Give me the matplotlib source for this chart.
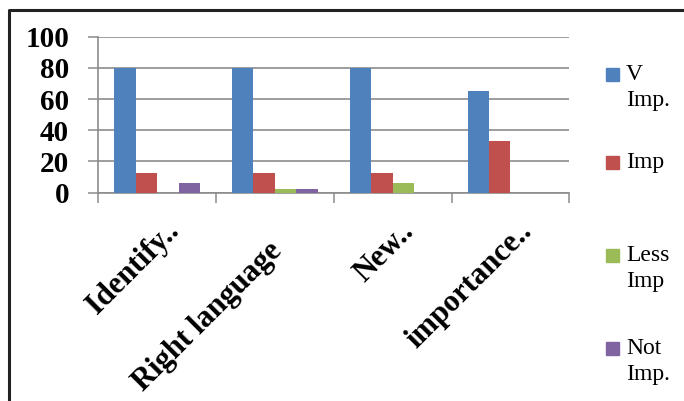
import numpy as np
import matplotlib.pyplot as plt
from matplotlib.lines import Line2D
from matplotlib.patches import Rectangle
from matplotlib.transforms import offset_copy

categories = ['Identify..', 'Right language', 'New..', 'importance..']
series_names = ['V\nImp.', 'Imp', 'Less\nImp', 'Not\nImp.']
v_imp = [80, 80, 80, 65]
imp = [12.5, 12.5, 12.5, 33]
less_imp = [0, 2.5, 6.25, 0]
not_imp = [6.25, 2.5, 0, 0]
y_ticks = [0, 20, 40, 60, 80, 100]

colors = ['#4F81BD', '#C0504D', '#9BBB59', '#8064A2']
grid_color = '#8C8C8C'
serif = ['Liberation Serif', 'DejaVu Serif']

fig = plt.figure(figsize=(6.84, 4.01), dpi=100)
ax = fig.add_axes([0.1437, 0.5195, 0.6886, 0.389])

values = [v_imp, imp, less_imp, not_imp]
x = np.arange(len(categories))
width = 0.182
for i, (vals, col) in enumerate(zip(values, colors)):
    ax.bar(x + (i - 1.5) * width, vals, width, color=col, zorder=3)

ax.set_xlim(-0.5, len(categories) - 0.5)
ax.set_ylim(0, 100)
ax.set_yticks(y_ticks)
ax.set_yticklabels([str(t) for t in y_ticks], family=serif, fontweight='bold', fontsize=21)
ax.yaxis.grid(True, color=grid_color, linewidth=1.2, zorder=0)
ax.tick_params(axis='y', length=7, width=1.1, color=grid_color, pad=14)

# tick marks on the category boundaries
ax.set_xticks(np.arange(len(categories) + 1) - 0.5)
ax.set_xticklabels([])
ax.tick_params(axis='x', length=7, width=1.1, color=grid_color)

# rotated category names, nudged (pixels) the way the spreadsheet placed them
label_nudge = [(7, -24), (-8, -44), (7, -24), (7, -24)]
xform = ax.get_xaxis_transform()
for xi, name, (dx, dy) in zip(x, categories, label_nudge):
    tr = offset_copy(xform, fig=fig, x=dx, y=dy, units='dots')
    ax.text(xi, 0, name, transform=tr, rotation=45, ha='right', va='top',
            rotation_mode='anchor', family=serif, fontweight='bold', fontsize=22)

for side in ['top', 'right']:
    ax.spines[side].set_visible(False)
for side in ['left', 'bottom']:
    ax.spines[side].set_color(grid_color)
    ax.spines[side].set_linewidth(1.2)

# legend drawn by hand so the swatch lines up with the first text line
W, H = 684, 401
legend_tops = [68, 156, 249, 342]
for name, col, top in zip(series_names, colors, legend_tops):
    fig.add_artist(Rectangle((606 / W, 1 - (top + 13) / H), 13 / W, 13 / H,
                             color=col, transform=fig.transFigure))
    fig.text(626 / W, 1 - (top - 4) / H, name, family=serif, fontsize=17,
             va='top', ha='left', linespacing=1.3)

# outer frame
fig.add_artist(Line2D([8.5 / W, 8.5 / W, 1], [0, 1 - 9.5 / H, 1 - 9.5 / H],
                      color='#222222', linewidth=2.2, transform=fig.transFigure))

fig.savefig('out.png', dpi=100)
